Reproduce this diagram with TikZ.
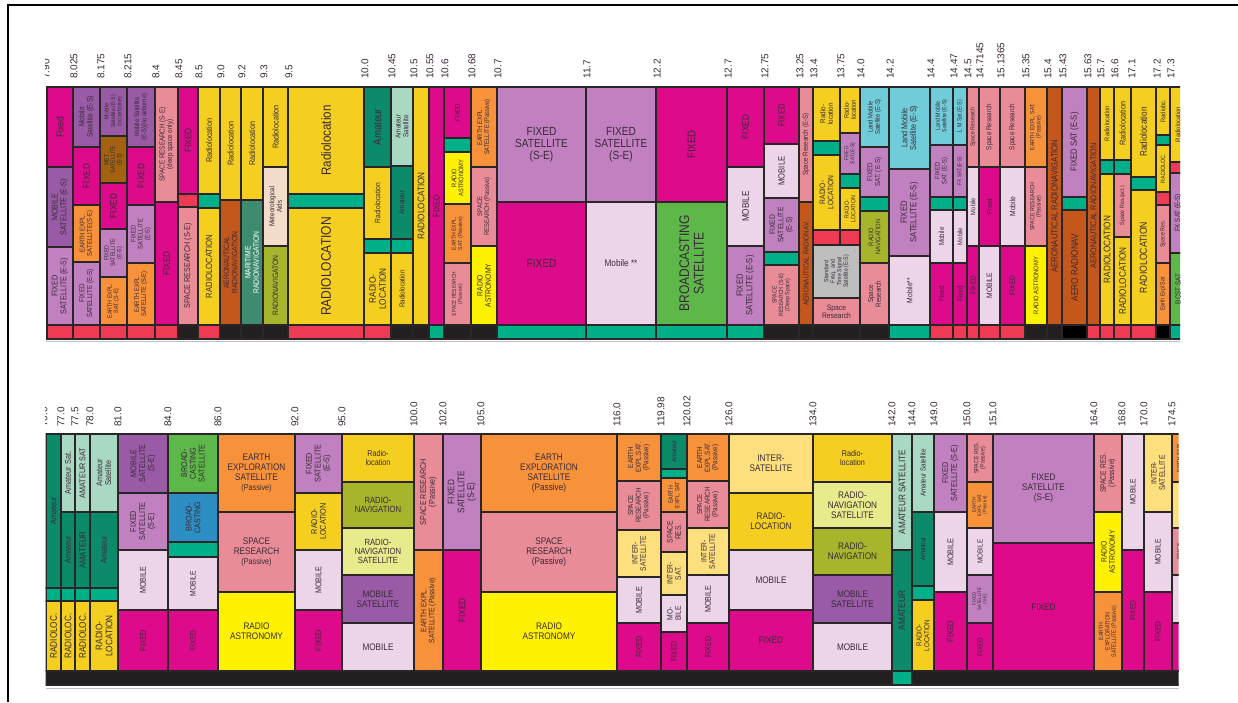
\documentclass[tikz,border=0pt]{standalone}
\usepackage{fontspec}
\setmainfont{Liberation Sans}[FakeStretch=0.86]
\newfontfamily\labfont{Liberation Sans}
\definecolor{fx}{HTML}{DD0A8B}
\definecolor{ms}{HTML}{9A5BA6}
\definecolor{fs}{HTML}{C180C0}
\definecolor{ee}{HTML}{F7923A}
\definecolor{sr}{HTML}{E98C97}
\definecolor{rl}{HTML}{F4CF1F}
\definecolor{ra}{HTML}{FFF200}
\definecolor{gn}{HTML}{00B088}
\definecolor{rd}{HTML}{EE3B53}
\definecolor{bk}{HTML}{231F20}
\definecolor{pb}{HTML}{000000}
\definecolor{mt}{HTML}{A3620E}
\definecolor{ar}{HTML}{C4571B}
\definecolor{mr}{HTML}{3E8B6F}
\definecolor{ma}{HTML}{F3DCC9}
\definecolor{rn}{HTML}{A6B52C}
\definecolor{am}{HTML}{0C8B6B}
\definecolor{as}{HTML}{A9D9C2}
\definecolor{mo}{HTML}{ECD5E8}
\definecolor{bs}{HTML}{5DB849}
\definecolor{sf}{HTML}{BEBEBE}
\definecolor{lm}{HTML}{71CCD9}
\definecolor{bc}{HTML}{2C8EC2}
\definecolor{ns}{HTML}{E8EB8B}
\definecolor{is}{HTML}{FDE07D}
\definecolor{edge}{HTML}{2A2526}
\definecolor{txt}{HTML}{3A2A38}
\newcommand\fz[1]{\fontsize{\fpeval{1.12*#1}}{\fpeval{1.17*#1}}\selectfont}
\tikzset{
  cellbox/.style={draw=edge, line width=1.3pt},
  lbl/.style={inner sep=0pt, align=center, text=txt},
  v/.style={rotate=90},
  h/.style={},
  fsz/.style={font=\fz{#1}},
  flab/.style={rotate=90, anchor=west, inner sep=0pt, text=txt, font=\labfont\fontsize{10}{10}\selectfont},
}
% one allocation block: [label options]{x1}{x2}{y1}{y2}{fill}{label}
\newcommand\blk[7][]{%
  \filldraw[cellbox, fill=#6] (#2,#4) rectangle (#3,#5);
  \node[lbl,#1] at ({(#2+#3)/2},{(#4+#5)/2}) {#7};}
\newcommand\freqlab[3]{\node[flab] at (#1,#2) {#3};}
\begin{document}
\begin{tikzpicture}[x=1pt,y=-1pt]
\useasboundingbox (0,0) rectangle (1238,702);
\fill[white] (0,0) rectangle (1238,702);
\draw[line width=1.5pt, black] (8,702) -- (8,5) -- (1238,5);

% ---------------- upper band: 7.90 - 17.3 GHz ----------------
\begin{scope}
\clip (45.5,0) rectangle (1180,360);
\foreach \x/\t in {45/7.90,73/8.025,100/8.175,127/8.215,155/8.4,178/8.45,198/8.5,220/9.0,241/9.2,263/9.3,288/9.5,364/10.0,391/10.45,413/10.5,429/10.55,444/10.6,471/10.68,497/10.7,586/11.7,656/12.2,727/12.7,764/12.75,799/13.25,813/13.4,840/13.75,860/14.0,889/14.2,930/14.4,953/14.47,967/14.5,979/14.7145,1000/15.1365,1025/15.35,1047/15.4,1062/15.43,1087/15.63,1100/15.7,1114/16.6,1131/17.1,1156/17.2,1170/17.3}
  {\freqlab{\x+1}{79}{\t}}

\blk[v,fsz=9]{47}{73}{87}{167}{fx}{Fixed}
\blk[v,fsz=7.5]{47}{73}{167}{247}{ms}{MOBILE\\SATELLITE (E-S)}
\blk[v,fsz=7.5]{47}{73}{247}{325}{fs}{FIXED\\SATELLITE (E-S)}

\blk[v,fsz=7]{73}{100}{87}{147}{ms}{Mobile\\Satellite (E-S)}
\blk[v,fsz=8.5]{73}{100}{147}{205}{fx}{FIXED}
\blk[v,fsz=6.2]{73}{100}{205}{262}{ee}{EARTH EXPL.\\SATELLITE(S-E)}
\blk[v,fsz=6.5]{73}{100}{262}{325}{fs}{FIXED\\SATELLITE (E-S)}

\blk[v,fsz=5.5]{100}{127}{87}{136}{ms}{Mobile\\Satellite (E-S)\\(no airborne)}
\blk[v,fsz=5.5]{100}{127}{136}{183}{mt}{MET.\\SATELLITE\\(E-S)}
\blk[v,fsz=8.5]{100}{127}{183}{229}{fx}{FIXED}
\blk[v,fsz=5.5]{100}{127}{229}{277}{fs}{FIXED\\SATELLITE\\(E-S)}
\blk[v,fsz=5.5]{100}{127}{277}{325}{ee}{EARTH EXPL.\\SAT. (S-E)}

\blk[v,fsz=6]{127}{155}{87}{147}{ms}{Mobile Satellite\\(E-S)(no airborne)}
\blk[v,fsz=8.5]{127}{155}{147}{205}{fx}{FIXED}
\blk[v,fsz=6]{127}{155}{205}{263}{fs}{FIXED\\SATELLITE\\(E-S)}
\blk[v,fsz=6]{127}{155}{263}{325}{ee}{EARTH EXPL.\\SATELLITE (S-E)}

\blk[v,fsz=6.5]{155}{178}{87}{202}{sr}{SPACE RESEARCH (S-E)\\(deep space only)}
\blk[v,fsz=8.5]{155}{178}{202}{325}{fx}{FIXED}

\blk[v,fsz=8.5]{178}{198}{87}{194}{fx}{FIXED}
\blk{178}{198}{194}{207}{rd}{}
\blk[v,fsz=7.5]{178}{198}{207}{325}{sr}{SPACE RESEARCH (S-E)}

\blk[v,fsz=7.5]{198}{220}{87}{194}{rl}{Radiolocation}
\blk{198}{220}{194}{208}{gn}{}
\blk[v,fsz=8]{198}{220}{208}{325}{rl}{RADIOLOCATION}

\blk[v,fsz=7.5]{220}{241}{87}{200}{rl}{Radiolocation}
\blk[v,fsz=7]{220}{241}{200}{325}{ar}{AERONAUTICAL\\RADIONAVIGATION}

\blk[v,fsz=7.5]{241}{263}{87}{200}{rl}{Radiolocation}
\blk[v,fsz=7,text=white]{241}{263}{200}{325}{mr}{MARITIME\\RADIONAVIGATION}

\blk[v,fsz=7.5]{263}{288}{87}{167}{rl}{Radiolocation}
\blk[v,fsz=6.5]{263}{288}{167}{246}{ma}{Meteorological\\Aids}
\blk[v,fsz=7]{263}{288}{246}{325}{rn}{RADIONAVIGATON}

\blk[v,fsz=12]{288}{364}{87}{194}{rl}{Radiolocation}
\blk{288}{364}{194}{208}{gn}{}
\blk[v,fsz=12.5]{288}{364}{208}{325}{rl}{RADIOLOCATION}

\blk[v,fsz=10]{364}{391}{87}{167}{am}{Amateur}
\blk[v,fsz=7]{364}{391}{167}{239}{rl}{Radiolocation}
\blk{364}{391}{239}{253}{gn}{}
\blk[v,fsz=8.5]{364}{391}{253}{325}{rl}{RADIO-\\LOCATION}

\blk[v,fsz=6.5]{391}{413}{87}{166}{as}{Amateur\\Satellite}
\blk[v,fsz=6.5]{391}{413}{166}{239}{am}{Amateur}
\blk{391}{413}{239}{253}{gn}{}
\blk[v,fsz=6.5]{391}{413}{253}{325}{rl}{Radiolocation}

\blk[v,fsz=8.5]{413}{429}{87}{325}{rl}{RADIOLOCATION}
\blk[v,fsz=8]{429}{444}{87}{325}{fx}{FIXED}

\blk[v,fsz=6]{444}{471}{87}{138}{fx}{FIXED}
\blk{444}{471}{138}{152}{gn}{}
\blk[v,fsz=6]{444}{471}{152}{204}{ra}{RADIO\\ASTRONOMY}
\blk[v,fsz=5.3]{444}{471}{204}{263}{ee}{EARTH EXPL.\\SAT. (Passive)}
\blk[v,fsz=5]{444}{471}{263}{325}{sr}{SPACE RESEARCH\\(Passive)}

\blk[v,fsz=6]{471}{497}{87}{167}{ee}{EARTH EXPL.\\SATELLITE (Passive)}
\blk[v,fsz=6]{471}{497}{167}{246}{sr}{SPACE\\RESEARCH (Passive)}
\blk[v,fsz=7]{471}{497}{246}{325}{ra}{RADIO\\ASTRONOMY}

\blk[h,fsz=10.5]{497}{586}{87}{202}{fs}{FIXED\\SATELLITE\\(S-E)}
\blk[h,fsz=10.5]{497}{586}{202}{325}{fx}{FIXED}

\blk[h,fsz=10.5]{586}{656}{87}{202}{fs}{FIXED\\SATELLITE\\(S-E)}
\blk[h,fsz=8.5]{586}{656}{202}{325}{mo}{Mobile **}

\blk[v,fsz=10]{656}{727}{87}{202}{fx}{FIXED}
\blk[v,fsz=12.5]{656}{727}{202}{325}{bs}{BROADCASTING\\SATELLITE}

\blk[v,fsz=8.5]{727}{764}{87}{167}{fx}{FIXED}
\blk[v,fsz=8.5]{727}{764}{167}{246}{mo}{MOBILE}
\blk[v,fsz=8]{727}{764}{246}{325}{fs}{FIXED\\SATELLITE (E-S)}

\blk[v,fsz=8]{764}{799}{87}{144}{fx}{FIXED}
\blk[v,fsz=8]{764}{799}{144}{198}{mo}{MOBILE}
\blk[v,fsz=7]{764}{799}{198}{252}{fs}{FIXED\\SATELLITE\\(E-S)}
\blk{764}{799}{252}{265}{gn}{}
\blk[v,fsz=5.5]{764}{799}{265}{325}{sr}{SPACE\\RESEARCH (S-E)\\(Deep Space)}

\blk[v,fsz=6.5]{799}{813}{87}{202}{sr}{Space Research (E-S)}
\blk[v,fsz=6.5]{799}{813}{202}{325}{ar}{AERONAUTICAL RADIONAV.}

\blk[v,fsz=6.5]{813}{840}{87}{141}{rl}{Radio-\\location}
\blk{813}{840}{141}{155}{gn}{}
\blk[v,fsz=7]{813}{840}{155}{230}{rl}{RADIO-\\LOCATION}
\blk{813}{840}{230}{245}{rd}{}

\blk[v,fsz=6]{840}{860}{87}{133}{rl}{Radio-\\location}
\blk[v,fsz=5]{840}{860}{133}{174}{fs}{FIXED\\SAT.(E-S)}
\blk{840}{860}{174}{188}{gn}{}
\blk[v,fsz=5.5]{840}{860}{188}{230}{rl}{RADIO-\\LOCATION}
\blk{840}{860}{230}{245}{rd}{}
\blk[v,fsz=5.5]{813}{860}{245}{298}{sf}{Standard\\Freq. and\\Time Signal\\Satellite (E-S)}
\blk[h,fsz=7]{813}{860}{298}{325}{sr}{Space\\Research}

\blk[v,fsz=6]{860}{889}{87}{147}{lm}{Land Mobile\\Satellite (E-S)}
\blk[v,fsz=6.5]{860}{889}{147}{197}{fs}{FIXED\\SAT. (E-S)}
\blk{860}{889}{197}{211}{gn}{}
\blk[v,fsz=6]{860}{889}{211}{263}{rn}{RADIO\\NAVIGATION}
\blk[v,fsz=6.5]{860}{889}{263}{325}{sr}{Space\\Research}

\blk[v,fsz=7.5]{889}{930}{87}{169}{lm}{Land Mobile\\Satellite (E-S)}
\blk[v,fsz=8]{889}{930}{169}{256}{fs}{FIXED\\SATELLITE (E-S)}
\blk[v,fsz=7]{889}{930}{256}{325}{mo}{Mobile**}

\blk[v,fsz=5.5]{930}{953}{87}{145}{lm}{Land Mobile\\Satellite (E-S)}
\blk[v,fsz=6]{930}{953}{145}{197}{fs}{FIXED\\SAT. (E-S)}
\blk{930}{953}{197}{210}{gn}{}
\blk[v,fsz=6.5]{930}{953}{210}{263}{mo}{Mobile}
\blk[v,fsz=6.5]{930}{953}{263}{325}{fx}{Fixed}

\blk[v,fsz=5.5]{953}{967}{87}{145}{lm}{L M Sat.(E-S)}
\blk[v,fsz=5]{953}{967}{145}{197}{fs}{FX SAT.(E-S)}
\blk{953}{967}{197}{210}{gn}{}
\blk[v,fsz=6]{953}{967}{210}{263}{mo}{Mobile}
\blk[v,fsz=6.5]{953}{967}{263}{325}{fx}{Fixed}

\blk[v,fsz=5.5]{967}{979}{87}{167}{sr}{Space Research}
\blk[v,fsz=6]{967}{979}{167}{246}{mo}{Mobile}
\blk[v,fsz=6.5]{967}{979}{246}{325}{fx}{FIXED}

\blk[v,fsz=6.5]{979}{1000}{87}{167}{sr}{Space Research}
\blk[v,fsz=6.5]{979}{1000}{167}{246}{fx}{Fixed}
\blk[v,fsz=7]{979}{1000}{246}{325}{mo}{MOBILE}

\blk[v,fsz=6.5]{1000}{1025}{87}{167}{sr}{Space Research}
\blk[v,fsz=7]{1000}{1025}{167}{246}{mo}{Mobile}
\blk[v,fsz=7]{1000}{1025}{246}{325}{fx}{FIXED}

\blk[v,fsz=5.5]{1025}{1047}{87}{167}{ee}{EARTH EXPL. SAT.\\(Passive)}
\blk[v,fsz=5.5]{1025}{1047}{167}{246}{sr}{SPACE RESEARCH\\(Passive)}
\blk[v,fsz=6]{1025}{1047}{246}{325}{ra}{RADIO ASTRONOMY}

\blk[v,fsz=8]{1047}{1062}{87}{325}{ar}{AERONAUTICAL RADIONAVIGATION}

\blk[v,fsz=8]{1062}{1087}{87}{197}{fs}{FIXED SAT (E-S)}
\blk{1062}{1087}{197}{210}{gn}{}
\blk[v,fsz=8.5]{1062}{1087}{210}{325}{ar}{AERO RADIONAV}

\blk[v,fsz=7.5]{1087}{1100}{87}{325}{ar}{AERONAUTICAL RADIONAVIGATION}

\blk[v,fsz=6]{1100}{1114}{87}{160}{rl}{Radiolocation}
\blk{1100}{1114}{160}{174}{gn}{}
\blk[v,fsz=8.5]{1100}{1114}{174}{325}{rl}{RADIOLOCATION}

\blk[v,fsz=7.5]{1114}{1131}{87}{160}{rl}{Radiolocation}
\blk{1114}{1131}{160}{174}{gn}{}
\blk[v,fsz=5.5]{1114}{1131}{174}{237}{sr}{Space Res.(act.)}
\blk[v,fsz=8.5]{1114}{1131}{237}{325}{rl}{RADIOLOCATION}

\blk[v,fsz=8.5]{1131}{1156}{87}{177}{rl}{Radiolocation}
\blk{1131}{1156}{177}{190}{gn}{}
\blk[v,fsz=9]{1131}{1156}{190}{325}{rl}{RADIOLOCATION}

\blk[v,fsz=6]{1156}{1170}{87}{135}{rl}{Radiobc.}
\blk{1156}{1170}{135}{145}{gn}{}
\blk[v,fsz=5.5]{1156}{1170}{145}{192}{rl}{RADIOLOC.}
\blk{1156}{1170}{192}{205}{rd}{}
\blk[v,fsz=5.5]{1156}{1170}{205}{263}{sr}{Space Res.}
\blk[v,fsz=5.5]{1156}{1170}{263}{325}{ee}{Earth Expl Sat}

\blk[v,fsz=6]{1170}{1186}{87}{162}{rl}{Radiolocation}
\blk{1170}{1186}{162}{173}{rd}{}
\blk[v,fsz=6.5]{1170}{1186}{173}{253}{fs}{FX SAT (E-S)}
\blk[v,fsz=6.5]{1170}{1186}{253}{325}{bs}{BCST SAT}

% service strip under the upper band
\foreach \a/\b/\c in {47/73/rd,73/100/rd,100/127/rd,127/155/rd,155/178/rd,178/198/bk,198/220/rd,220/241/bk,241/263/bk,263/288/bk,288/364/rd,364/391/rd,391/413/bk,413/429/bk,429/444/gn,444/471/bk,471/497/bk,497/586/gn,586/656/gn,656/727/gn,727/764/gn,764/799/bk,799/813/bk,813/860/bk,860/889/bk,889/930/gn,930/953/rd,953/967/rd,967/979/rd,979/1000/rd,1000/1025/rd,1025/1047/bk,1047/1062/bk,1062/1087/pb,1087/1100/rd,1100/1114/rd,1114/1131/rd,1131/1156/rd,1156/1170/pb,1170/1186/gn}
  {\blk{\a}{\b}{325}{339}{\c}{}}
\draw[black!25, line width=1pt] (46,341.5) -- (1186,341.5);
\end{scope}

% ---------------- lower band: 76 - 174.5 GHz ----------------
\begin{scope}
\clip (45.5,360) rectangle (1178.5,702);
\foreach \x/\t in {44/76.0,61/77.0,75/77.5,90/78.0,118/81.0,168/84.0,218/86.0,295/92.0,342/95.0,414/100.0,443/102.0,481/105.0,617/116.0,661/119.98,687/120.02,729/126.0,813/134.0,892/142.0,912/144.0,934/149.0,967/150.0,993/151.0,1094/164.0,1122/168.0,1144/170.0,1172/174.5}
  {\freqlab{\x}{427}{\t}}

\blk[v,fsz=7.5]{46}{61}{434}{588}{am}{Amateur}
\blk{46}{61}{588}{601}{gn}{}
\blk[v,fsz=8.5]{46}{61}{601}{671}{rl}{RADIOLOC.}

\blk[v,fsz=7.5]{61}{75}{434}{512}{as}{Amateur Sat.}
\blk[v,fsz=7.5]{61}{75}{512}{588}{am}{Amateur}
\blk{61}{75}{588}{601}{gn}{}
\blk[v,fsz=8.5]{61}{75}{601}{671}{rl}{RADIOLOC.}

\blk[v,fsz=7.5]{75}{90}{434}{512}{as}{AMATEUR SAT}
\blk[v,fsz=8]{75}{90}{512}{588}{am}{AMATEUR}
\blk{75}{90}{588}{601}{gn}{}
\blk[v,fsz=8.5]{75}{90}{601}{671}{rl}{RADIOLOC.}

\blk[v,fsz=7.5]{90}{118}{434}{512}{as}{Amateur\\Satellite}
\blk[v,fsz=7.5]{90}{118}{512}{588}{am}{Amateur}
\blk{90}{118}{588}{601}{gn}{}
\blk[v,fsz=8.5]{90}{118}{601}{671}{rl}{RADIO-\\LOCATION}

\blk[v,fsz=7.5]{118}{168}{434}{493}{ms}{MOBILE\\SATELLITE\\(S-E)}
\blk[v,fsz=7.5]{118}{168}{493}{550}{fs}{FIXED\\SATELLITE\\(S-E)}
\blk[v,fsz=7.5]{118}{168}{550}{610}{mo}{MOBILE}
\blk[v,fsz=7.5]{118}{168}{610}{671}{fx}{FIXED}

\blk[v,fsz=7.5]{168}{218}{434}{493}{bs}{BROAD-\\CASTING\\SATELLITE}
\blk[v,fsz=7.5]{168}{218}{493}{542}{bc}{BROAD-\\CASTING}
\blk{168}{218}{542}{557}{gn}{}
\blk[v,fsz=7]{168}{218}{557}{610}{mo}{MOBILE}
\blk[v,fsz=7]{168}{218}{610}{671}{fx}{FIXED}

\blk[h,fsz=8.5]{218}{295}{434}{512}{ee}{EARTH\\EXPLORATION\\SATELLITE\\{\fz{7.5}(Passive)}}
\blk[h,fsz=8.5]{218}{295}{512}{592}{sr}{SPACE\\RESEARCH\\{\fz{7.5}(Passive)}}
\blk[h,fsz=8.5]{218}{295}{592}{671}{ra}{RADIO\\ASTRONOMY}

\blk[v,fsz=7.5]{295}{342}{434}{493}{fs}{FIXED\\SATELLITE\\(E-S)}
\blk[v,fsz=7.5]{295}{342}{493}{550}{rl}{RADIO-\\LOCATION}
\blk[v,fsz=7.5]{295}{342}{550}{610}{mo}{MOBILE}
\blk[v,fsz=7.5]{295}{342}{610}{671}{fx}{FIXED}

\blk[h,fsz=7.5]{342}{414}{434}{482}{rl}{Radio-\\location}
\blk[h,fsz=8]{342}{414}{482}{528}{rn}{RADIO-\\NAVIGATION}
\blk[h,fsz=8]{342}{414}{528}{575}{ns}{RADIO-\\NAVIGATION\\SATELLITE}
\blk[h,fsz=8.5]{342}{414}{575}{623}{ms}{MOBILE\\SATELLITE}
\blk[h,fsz=8.5]{342}{414}{623}{671}{mo}{MOBILE}

\blk[v,fsz=7.5]{414}{443}{434}{550}{sr}{SPACE RESEARCH\\(Passive)}
\blk[v,fsz=7]{414}{443}{550}{671}{ee}{EARTH EXPL.\\SATELLITE (Passive)}

\blk[v,fsz=8.5]{443}{481}{434}{550}{fs}{FIXED\\SATELLITE\\(S-E)}
\blk[v,fsz=8.5]{443}{481}{550}{671}{fx}{FIXED}

\blk[h,fsz=8.5]{481}{617}{434}{512}{ee}{EARTH\\EXPLORATION\\SATELLITE\\(Passive)}
\blk[h,fsz=8.5]{481}{617}{512}{592}{sr}{SPACE\\RESEARCH\\(Passive)}
\blk[h,fsz=8.5]{481}{617}{592}{671}{ra}{RADIO\\ASTRONOMY}

\blk[v,fsz=6.5]{617}{661}{434}{481}{ee}{EARTH\\EXPL.SAT.\\(Passive)}
\blk[v,fsz=6.5]{617}{661}{481}{530}{sr}{SPACE\\RESEARCH\\(Passive)}
\blk[v,fsz=7]{617}{661}{530}{577}{is}{INTER-\\SATELLITE}
\blk[v,fsz=7.5]{617}{661}{577}{623}{mo}{MOBILE}
\blk[v,fsz=7.5]{617}{661}{623}{671}{fx}{FIXED}

\blk[v,fsz=6]{661}{687}{434}{469}{am}{Amateur}
\blk{661}{687}{469}{478}{gn}{}
\blk[v,fsz=5.5]{661}{687}{478}{512}{ee}{EARTH\\EXPL. SAT}
\blk[v,fsz=7]{661}{687}{512}{552}{sr}{SPACE\\RES.}
\blk[v,fsz=7]{661}{687}{552}{595}{is}{INTER-\\SAT.}
\blk[v,fsz=7]{661}{687}{595}{632}{mo}{MO-\\BILE}
\blk[v,fsz=7]{661}{687}{632}{671}{fx}{FIXED}

\blk[v,fsz=6.5]{687}{729}{434}{481}{ee}{EARTH\\EXPL.SAT.\\(Passive)}
\blk[v,fsz=6.5]{687}{729}{481}{528}{sr}{SPACE\\RESEARCH\\(Passive)}
\blk[v,fsz=7]{687}{729}{528}{575}{is}{INTER-\\SATELLITE}
\blk[v,fsz=7.5]{687}{729}{575}{623}{mo}{MOBILE}
\blk[v,fsz=7.5]{687}{729}{623}{671}{fx}{FIXED}

\blk[h,fsz=8.5]{729}{813}{434}{493}{is}{INTER-\\SATELLITE}
\blk[h,fsz=8.5]{729}{813}{493}{550}{rl}{RADIO-\\LOCATION}
\blk[h,fsz=8.5]{729}{813}{550}{610}{mo}{MOBILE}
\blk[h,fsz=8.5]{729}{813}{610}{671}{fx}{FIXED}

\blk[h,fsz=7.5]{813}{892}{434}{482}{rl}{Radio-\\location}
\blk[h,fsz=8.5]{813}{892}{482}{528}{ns}{RADIO-\\NAVIGATION\\SATELLITE}
\blk[h,fsz=8.5]{813}{892}{528}{575}{rn}{RADIO-\\NAVIGATION}
\blk[h,fsz=8.5]{813}{892}{575}{623}{ms}{MOBILE\\SATELLITE}
\blk[h,fsz=8.5]{813}{892}{623}{671}{mo}{MOBILE}

\blk[v,fsz=8.5]{892}{912}{434}{550}{as}{AMATEUR SATELLITE}
\blk[v,fsz=8.5]{892}{912}{550}{671}{am}{AMATEUR}

\blk[v,fsz=6.5]{912}{934}{434}{512}{as}{Amateur Satellite}
\blk[v,fsz=6.5]{912}{934}{512}{586}{am}{Amateur}
\blk{912}{934}{586}{600}{gn}{}
\blk[v,fsz=6.5]{912}{934}{600}{671}{rl}{RADIO-\\LOCATION}

\blk[v,fsz=7.5]{934}{967}{434}{512}{fs}{FIXED\\SATELLITE (S-E)}
\blk[v,fsz=7.5]{934}{967}{512}{592}{mo}{MOBILE}
\blk[v,fsz=7.5]{934}{967}{592}{671}{fx}{FIXED}

\blk[v,fsz=5.5]{967}{993}{434}{482}{sr}{SPACE RES.\\(Passive)}
\blk[v,fsz=4.5]{967}{993}{482}{528}{ee}{EARTH\\EXPL. SAT.\\(Passive)}
\blk[v,fsz=6.5]{967}{993}{528}{575}{mo}{MOBILE}
\blk[v,fsz=4.5]{967}{993}{575}{623}{fs}{FIXED\\SATELLITE\\(S-E)}
\blk[v,fsz=6.5]{967}{993}{623}{671}{fx}{FIXED}

\blk[h,fsz=8.5]{993}{1094}{434}{543}{fs}{FIXED\\SATELLITE\\(S-E)}
\blk[h,fsz=8.5]{993}{1094}{543}{671}{fx}{FIXED}

\blk[v,fsz=7]{1094}{1122}{434}{512}{sr}{SPACE RES.\\(Passive)}
\blk[v,fsz=7]{1094}{1122}{512}{592}{ra}{RADIO\\ASTRONOMY}
\blk[v,fsz=5.5]{1094}{1122}{592}{671}{ee}{EARTH\\EXPLORATION\\SATELLITE (Passive)}

\blk[v,fsz=7]{1122}{1144}{434}{550}{mo}{MOBILE}
\blk[v,fsz=7]{1122}{1144}{550}{671}{fx}{FIXED}

\blk[v,fsz=7]{1144}{1172}{434}{512}{is}{INTER-\\SATELLITE}
\blk[v,fsz=7]{1144}{1172}{512}{592}{mo}{MOBILE}
\blk[v,fsz=7]{1144}{1172}{592}{671}{fx}{FIXED}

\blk[v,fsz=5]{1172}{1186}{434}{482}{ee}{EARTH EXPL}
\blk{1172}{1186}{482}{528}{is}{}
\blk[v,fsz=5]{1172}{1186}{528}{575}{sr}{SPACE}
\blk{1172}{1186}{575}{623}{mo}{}
\blk{1172}{1186}{623}{671}{fx}{}

% service strip under the lower band
\blk{46}{1186}{671}{685}{bk}{}
\blk{892}{912}{671}{685}{gn}{}
\draw[black!25, line width=1pt] (46,688) -- (1186,688);
\end{scope}
\end{tikzpicture}
\end{document}
